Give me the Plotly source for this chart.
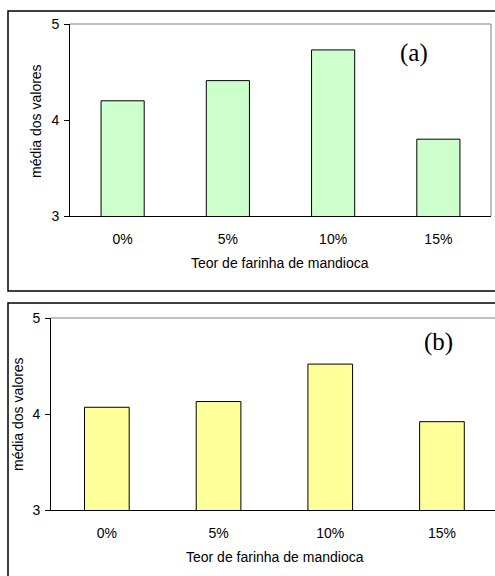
import plotly.graph_objects as go

W, H = 495, 576

categories = ["0%", "5%", "10%", "15%"]
values_a = [4.20, 4.41, 4.73, 3.80]
values_b = [4.07, 4.13, 4.52, 3.92]
y_ticks = [3, 4, 5]
y_title = "média dos valores"
x_title = "Teor de farinha de mandioca"
panel_labels = ["(a)", "(b)"]

def px(x):
    return x / W

def py(y):
    return 1 - y / H

FONT = dict(family="Liberation Sans, Arial, sans-serif", size=14, color="black")

fig = go.Figure()

fig.add_trace(go.Bar(x=categories, y=values_a, width=0.41, base=0,
                     marker=dict(color="#CCFFCC", line=dict(color="black", width=1)),
                     xaxis="x", yaxis="y", showlegend=False, hoverinfo="skip"))
fig.add_trace(go.Bar(x=categories, y=values_b, width=0.40, base=0,
                     marker=dict(color="#FFFF99", line=dict(color="black", width=1)),
                     xaxis="x2", yaxis="y2", showlegend=False, hoverinfo="skip"))

# panel geometry (pixels)
A = dict(l=70, r=491, t=24, b=216)
B = dict(l=51, r=495, t=318, b=510)
b_step = 111.7  # pixels per category in panel b
b_range_end = -0.5 + (B["r"] - B["l"]) / b_step

common_y = dict(range=[3, 5], tickvals=y_ticks, showline=True, linecolor="black", linewidth=1,
                ticks="outside", ticklen=5, tickcolor="black", tickwidth=1,
                showgrid=False, zeroline=False, tickfont=FONT, ticklabelstandoff=2)
common_x = dict(showline=True, linecolor="black", linewidth=1, ticks="", showgrid=False,
                tickfont=FONT, ticklabelstandoff=10, type="category")

fig.update_layout(
    width=W, height=H, margin=dict(l=0, r=0, t=0, b=0, pad=0, autoexpand=False),
    paper_bgcolor="white", plot_bgcolor="white",
    xaxis=dict(domain=[px(A["l"]), px(A["r"])], range=[-0.5, 3.5], anchor="y", **common_x),
    yaxis=dict(domain=[py(A["b"]), py(A["t"])], anchor="x", **common_y),
    xaxis2=dict(domain=[px(B["l"]), 1], range=[-0.5, b_range_end], anchor="y2", **common_x),
    yaxis2=dict(domain=[py(B["b"]), py(B["t"])], anchor="x2", **common_y),
)

shapes = []
# outer frames
shapes.append(dict(type="rect", xref="paper", yref="paper", x0=px(8), x1=px(W + 5), y0=py(291), y1=py(11),
                   line=dict(color="black", width=1.5), fillcolor="rgba(0,0,0,0)", layer="below"))
shapes.append(dict(type="rect", xref="paper", yref="paper", x0=px(8), x1=px(W + 5), y0=py(H + 5), y1=py(303),
                   line=dict(color="black", width=1.5), fillcolor="rgba(0,0,0,0)", layer="below"))
# gray top / right lines of plot areas
shapes.append(dict(type="line", xref="paper", yref="paper", x0=px(A["l"]), x1=px(A["r"]), y0=py(A["t"]), y1=py(A["t"]),
                   line=dict(color="#808080", width=1)))
shapes.append(dict(type="line", xref="paper", yref="paper", x0=px(A["r"]), x1=px(A["r"]), y0=py(A["t"]), y1=py(A["b"]),
                   line=dict(color="#808080", width=1)))
shapes.append(dict(type="line", xref="paper", yref="paper", x0=px(B["l"]), x1=1, y0=py(B["t"]), y1=py(B["t"]),
                   line=dict(color="#808080", width=1)))
fig.update_layout(shapes=shapes)

ann = []
for (ytc, ttl_y, xt_x, xt_y, lab, lab_x, lab_y) in [
    (36, 121, 280, 263, panel_labels[0], 414, 53),
    (18, 414, 275, 557, panel_labels[1], 438, 342),
]:
    ann.append(dict(text=y_title, xref="paper", yref="paper", x=px(ytc), y=py(ttl_y), textangle=-90,
                    showarrow=False, font=FONT, xanchor="center", yanchor="middle"))
    ann.append(dict(text=x_title, xref="paper", yref="paper", x=px(xt_x), y=py(xt_y),
                    showarrow=False, font=FONT, xanchor="center", yanchor="middle"))
    ann.append(dict(text=lab, xref="paper", yref="paper", x=px(lab_x), y=py(lab_y),
                    showarrow=False, font=dict(family="Liberation Serif, Times New Roman, serif", size=25, color="black"),
                    xanchor="center", yanchor="middle"))
fig.update_layout(annotations=ann)

fig.write_html("out.html", config={"displayModeBar": False},
               post_script="document.body.style.margin='0';document.body.style.overflow='hidden';")
